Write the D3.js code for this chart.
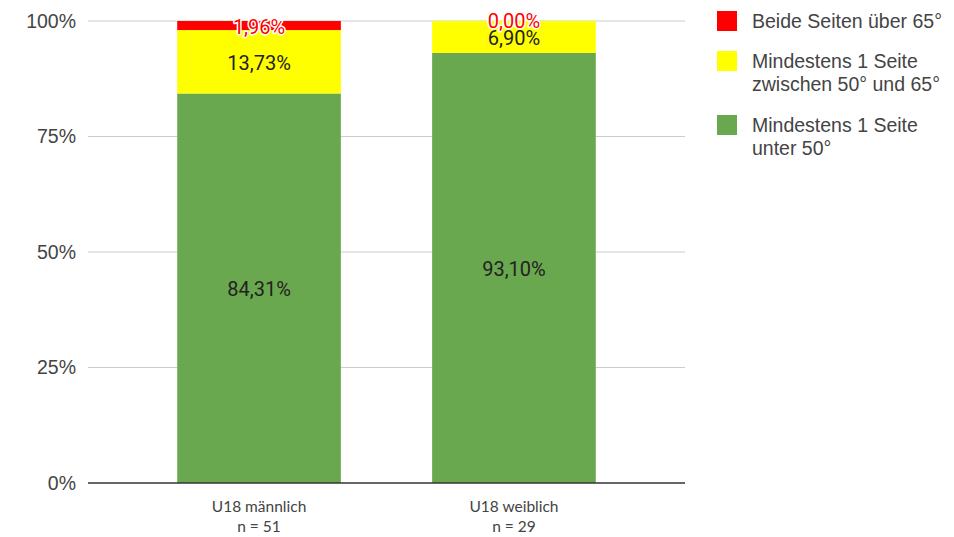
<!DOCTYPE html>
<html><head><meta charset="utf-8">
<script src="https://cdn.jsdelivr.net/npm/d3@7"></script>
<style>body{margin:0;background:#fff}svg{display:block}</style>
</head><body>
<svg id="c" width="954" height="537"></svg>
<script>
const categories = ["U18 männlich", "U18 weiblich"];
const categorySub = ["n = 51", "n = 29"];
const seriesNames = ["Mindestens 1 Seite unter 50°", "Mindestens 1 Seite zwischen 50° und 65°", "Beide Seiten über 65°"];
const unter50 = [84.31, 93.10];
const zwischen = [13.73, 6.90];
const ueber65 = [1.96, 0.00];
const colors = ["#6aa84f", "#ffff00", "#ff0000"];
const yTicks = [0, 25, 50, 75, 100];
const legendLines = [["Beide Seiten über 65°"], ["Mindestens 1 Seite", "zwischen 50° und 65°"], ["Mindestens 1 Seite", "unter 50°"]];
const legendColors = ["#ff0000", "#ffff00", "#6aa84f"];

const svg = d3.select("#c");
const x = d3.scaleBand().domain(categories).range([88, 685]).paddingInner(0.358).paddingOuter(0.35).align(0.5);
const y = d3.scaleLinear().domain([0, 100]).range([483, 21]);

// grid
svg.append("g").selectAll("line").data(yTicks.filter(d => d > 0)).join("line")
  .attr("x1", 88).attr("x2", 685).attr("y1", d => y(d)).attr("y2", d => y(d))
  .attr("stroke", "#cccccc").attr("stroke-width", 1);

const yAxis = svg.append("g").attr("transform", "translate(88,0)")
  .call(d3.axisLeft(y).tickValues(yTicks).tickFormat(d => d + "%").tickSize(0).tickPadding(12));
yAxis.select(".domain").remove();
yAxis.selectAll("text").attr("font-family", "Liberation Sans, Arial, sans-serif").attr("font-size", 19.5).attr("fill", "#444");

const seriesVals = [unter50, zwischen, ueber65];
const data = categories.map((c, i) => {
  let acc = 0;
  return seriesVals.map((s, k) => { const y0 = acc; acc += s[i]; return {c, k, v: s[i], y0, y1: acc}; });
});
const flat = data.flat();

svg.append("g").selectAll("rect").data(flat).join("rect")
  .attr("x", d => x(d.c)).attr("width", x.bandwidth())
  .attr("y", d => y(d.y1)).attr("height", d => y(d.y0) - y(d.y1))
  .attr("fill", d => colors[d.k]);

// baseline
svg.append("line").attr("x1", 88).attr("x2", 685).attr("y1", y(0)).attr("y2", y(0))
  .attr("stroke", "#333").attr("stroke-width", 1.5);

// labels
const fmt = v => v.toFixed(2).replace(".", ",") + "%";
const lab = svg.append("g").attr("font-family", "Roboto, sans-serif").attr("font-size", 20).attr("text-anchor", "middle");
flat.filter(d => d.k < 2).forEach(d => {
  lab.append("text").attr("x", x(d.c) + x.bandwidth() / 2).attr("y", (y(d.y0) + y(d.y1)) / 2 + 1).attr("dy", "0.35em")
    .attr("fill", "#222").text(fmt(d.v));
});
flat.filter(d => d.k === 2).forEach(d => {
  const cy = d.v > 0 ? (y(d.y0) + y(d.y1)) / 2 + 1.5 : y(d.y1);
  lab.append("text").attr("x", x(d.c) + x.bandwidth() / 2).attr("y", cy).attr("dy", "0.35em")
    .attr("fill", "#ff0000").attr("stroke", "#ffffff").attr("stroke-width", 3).attr("paint-order", "stroke")
    .attr("stroke-linejoin", "round").text(fmt(d.v));
});

// x labels
const xl = svg.append("g").attr("font-family", "Lato, sans-serif").attr("font-size", 15.5).attr("fill", "#444").attr("text-anchor", "middle");
categories.forEach((c, i) => {
  xl.append("text").attr("x", x(c) + x.bandwidth() / 2).attr("y", 512).text(c);
  xl.append("text").attr("x", x(c) + x.bandwidth() / 2).attr("y", 532).text(categorySub[i]);
});

// legend
const lg = svg.append("g").attr("font-family", "Liberation Sans, Arial, sans-serif").attr("font-size", 19.5).attr("fill", "#444");
const legendY = [11, 51, 115];
legendLines.forEach((lines, i) => {
  lg.append("rect").attr("x", 717).attr("y", legendY[i]).attr("width", 20).attr("height", 20).attr("fill", legendColors[i]);
  lines.forEach((t, j) => {
    lg.append("text").attr("x", 752).attr("y", legendY[i] + 17 + j * 23).text(t);
  });
});
</script>
</body></html>
